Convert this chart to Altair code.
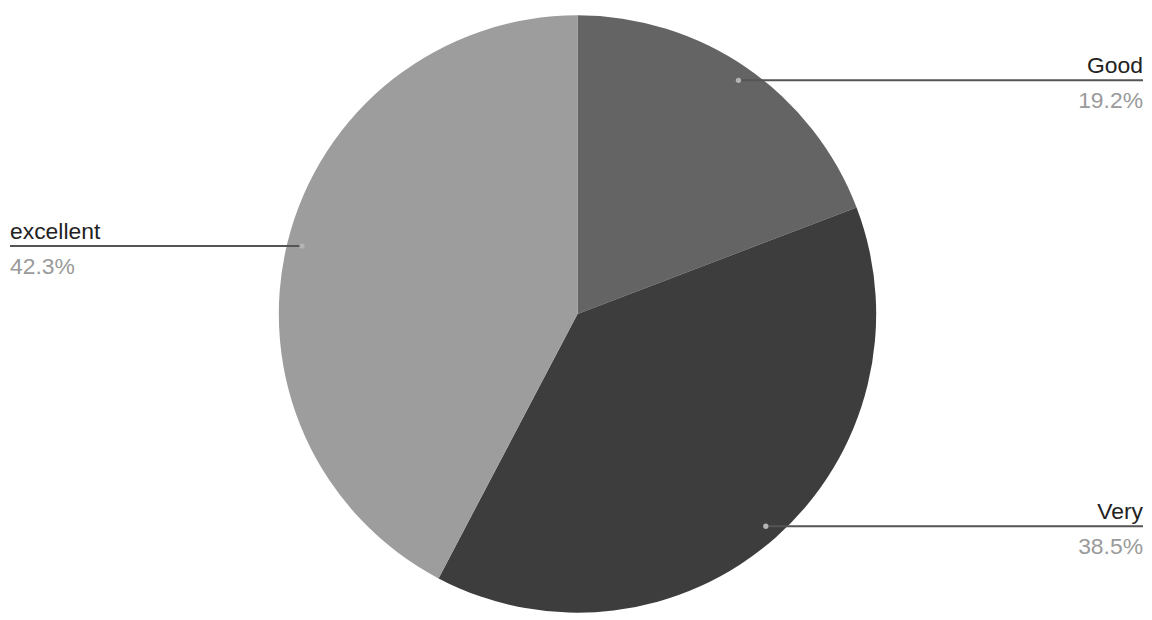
import math
import altair as alt
import pandas as pd

# ---- data ----
categories = ["Good", "Very", "excellent"]
percents = [19.2, 38.5, 42.3]
labels = ["19.2%", "38.5%", "42.3%"]
colors = ["#646464", "#3d3d3d", "#9d9d9d"]

# ---- layout constants (chart coordinates) ----
W, H = 1136, 604
CX, CY, R = 572, 306, 300
DOT_R = 0.95 * R
LEFT_X, RIGHT_X = 2, 1140
FONT = "Liberation Sans"

total = sum(percents)
rows = []
cum = 0.0
for i, (c, p, lab) in enumerate(zip(categories, percents, labels)):
    mid = (cum + p / 2) / total
    cum += p
    a = mid * 2 * math.pi
    dx = CX + DOT_R * math.sin(a)
    dy = CY - DOT_R * math.cos(a)
    side = "right" if math.sin(a) > 0 else "left"
    edge = RIGHT_X if side == "right" else LEFT_X
    rows.append(dict(cat=c, val=p, lab=lab, idx=i, dx=dx, dy=dy, side=side,
                     edge=edge, name_y=dy - 7, pct_y=dy + 28))
df = pd.DataFrame(rows)

base = alt.Chart(df)

pie = base.mark_arc(stroke=None).encode(
    theta=alt.Theta("val:Q", stack=True),
    order=alt.Order("idx:Q"),
    color=alt.Color("cat:N", scale=alt.Scale(domain=categories, range=colors), legend=None),
    x=alt.value(CX), y=alt.value(CY), radius=alt.value(R),
)

lines = base.mark_rule(color="#555555", strokeWidth=2).encode(
    x=alt.X("dx:Q", scale=None), x2="edge:Q", y=alt.Y("dy:Q", scale=None),
)

dots = base.mark_point(filled=True, size=28, color="#b4b4b4", opacity=1).encode(
    x=alt.X("dx:Q", scale=None), y=alt.Y("dy:Q", scale=None),
)

def texts(side, align):
    sub = base.transform_filter(alt.datum.side == side)
    name = sub.mark_text(align=align, baseline="alphabetic", font=FONT, fontSize=23,
                         color="#222222").encode(
        x=alt.X("edge:Q", scale=None), y=alt.Y("name_y:Q", scale=None), text="cat:N")
    pct = sub.mark_text(align=align, baseline="alphabetic", font=FONT, fontSize=23,
                        color="#9a9a9a").encode(
        x=alt.X("edge:Q", scale=None), y=alt.Y("pct_y:Q", scale=None), text="lab:N")
    return name + pct

chart = alt.layer(pie, lines, dots, texts("right", "right"), texts("left", "left")).properties(
    width=W, height=H, padding=0, background="white"
).configure_view(stroke=None)

chart.save("out.html", embed_options={"renderer": "svg", "actions": False})
